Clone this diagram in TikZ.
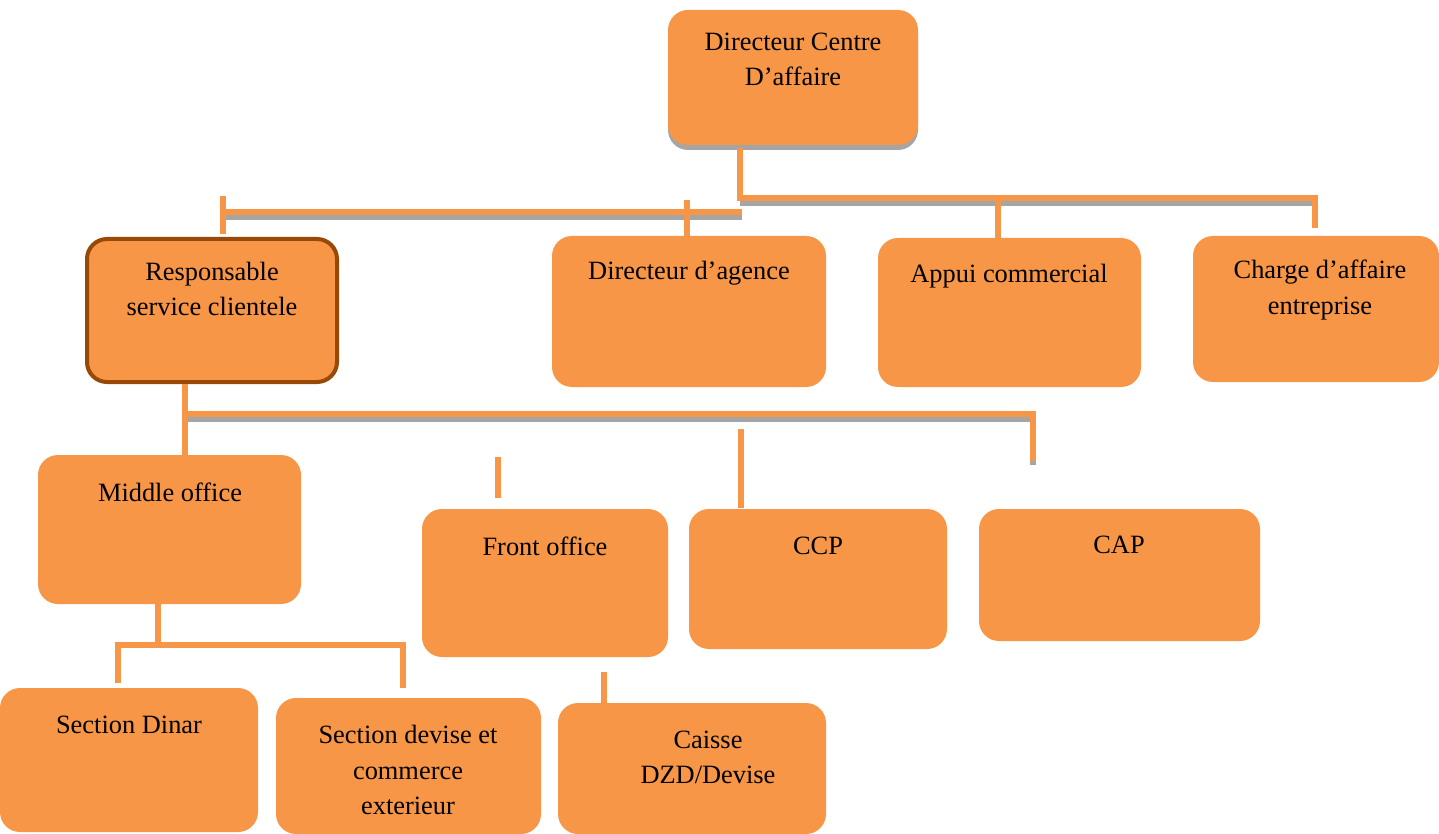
\documentclass[tikz,border=0pt]{standalone}
\usepackage{fontspec}
\setmainfont{Liberation Serif}
\usetikzlibrary{fit}
\definecolor{org}{HTML}{F79646}
\definecolor{brn}{HTML}{984807}
\definecolor{shd}{HTML}{A5A5A5}
\tikzset{
  box/.style={fill=org, draw=none, rounded corners=15pt, inner sep=0pt},
  txt/.style={font=\fontsize{19.8}{26.3}\selectfont, align=center, inner sep=0pt, text=black},
  link/.style={draw=org, line width=3.8pt},
  linkshadow/.style={draw=shd, line width=3.8pt},
}
\begin{document}
\begin{tikzpicture}[x=0.75pt, y=-0.75pt]
\useasboundingbox (0,0) rectangle (1439,834);
% top box shadow
\fill[shd, rounded corners=15pt] (668,15) rectangle (918,150);
\node[box, fit={(668,10)(918,145)}] (top) {};
\node[txt] (ttop) at (793,59) {Directeur Centre\\D’affaire};

\node[box, draw=brn, line width=3pt, fit={(87,239)(337,382)}] (resp) {};
\node[txt] (tresp) at (212,289) {Responsable\\service clientele};

\node[box, fit={(552,236)(826,387)}] (dag) {};
\node[txt] (tdag) at (689,273) {Directeur d’agence};

\node[box, fit={(878,238)(1141,387)}] (app) {};
\node[txt] (tapp) at (1009,276) {Appui commercial};

\node[box, fit={(1193,236)(1439,382)}] (cha) {};
\node[txt] (tcha) at (1320,290) {Charge d’affaire\\entreprise};

\node[box, fit={(38,455)(301,604)}] (mid) {};
\node[txt] (tmid) at (170,492) {Middle office};

\node[box, fit={(422,509)(668,657)}] (fro) {};
\node[txt] (tfro) at (545,546) {Front office};

\node[box, fit={(689,509)(947,649)}] (ccp) {};
\node[txt] (tccp) at (818,546) {CCP};

\node[box, fit={(979,509)(1260,641)}] (cap) {};
\node[txt] (tcap) at (1119,545) {CAP};

\node[box, fit={(0,688)(258,832)}] (sdi) {};
\node[txt] (tsdi) at (129,725) {Section Dinar};

\node[box, fit={(276,698)(541,834)}] (sde) {};
\node[txt] (tsde) at (408,770) {Section devise et\\commerce\\exterieur};

\node[box, fit={(558,703)(826,834)}] (cai) {};
\node[txt] (tcai) at (708,757) {Caisse\\DZD/Devise};

% connector coordinates
\coordinate (a1) at (740,148);
\coordinate (a2) at (740,198);
\coordinate (a3) at (1315,198);
\coordinate (a4) at (1315,228);
\coordinate (a5) at (998,198);
\coordinate (a6) at (998,238);
\coordinate (b1) at (225,212);
\coordinate (b2) at (742,212);
\coordinate (b3) at (223,196);
\coordinate (b4) at (223,234);
\coordinate (b5) at (687,200);
\coordinate (b6) at (687,236);
\coordinate (c1) at (185,384);
\coordinate (c2) at (185,458);
\coordinate (c3) at (185,414);
\coordinate (c4) at (1033,414);
\coordinate (c5) at (1033,465);
\coordinate (c6) at (498,457);
\coordinate (c7) at (498,498);
\coordinate (c8) at (741,429);
\coordinate (c9) at (741,508);
\coordinate (d1) at (158,604);
\coordinate (d2) at (158,645);
\coordinate (d3) at (118,645);
\coordinate (d4) at (403,645);
\coordinate (d5) at (118,683);
\coordinate (d6) at (403,688);
\coordinate (e1) at (604,672);
\coordinate (e2) at (604,703);

% shadows of horizontal bars
\draw[linkshadow] ([yshift=-4pt]a2) -- ([yshift=-4pt]a3);
\draw[linkshadow] ([yshift=-4pt]b1) -- ([yshift=-4pt]b2);
\draw[linkshadow] ([yshift=-4pt]c3) -- ([yshift=-4pt]c4);
\draw[linkshadow] (c4) -- (c5);

% links
\draw[link] (a1) -- (a2) -- (a3) -- (a4);
\draw[link] (a5) -- (a6);
\draw[link] (b1) -- (b2);
\draw[link] (b3) -- (b4);
\draw[link] (b5) -- (b6);
\draw[link] (c1) -- (c2);
\draw[link] (c3) -- (c4) -- ([yshift=3pt]c5);
\draw[link] (c6) -- (c7);
\draw[link] (c8) -- (c9);
\draw[link] (d1) -- (d2);
\draw[link] (d5) -- (d3) -- (d4) -- (d6);
\draw[link] (e1) -- (e2);
\end{tikzpicture}
\end{document}
